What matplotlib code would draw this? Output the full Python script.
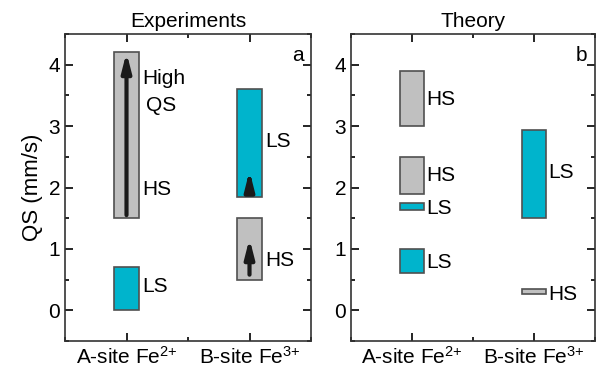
import matplotlib.pyplot as plt
from matplotlib.ticker import MultipleLocator

plt.rcParams['font.family'] = ['Liberation Sans', 'DejaVu Sans']
plt.rcParams['mathtext.fontset'] = 'custom'
plt.rcParams['mathtext.rm'] = 'Liberation Sans'
plt.rcParams['mathtext.it'] = 'Liberation Sans'

sites = ['A-site Fe$^{2{+}}$', 'B-site Fe$^{3{+}}$']
gray = '#c0c0c0'
cyan = '#00b4cc'

# (site position, low QS, high QS, colour, label, label y)
exp_bars = [
    (1, 1.5, 4.2, gray, 'HS', 1.96),
    (1, 0.0, 0.7, cyan, 'LS', 0.38),
    (2, 1.85, 3.6, cyan, 'LS', 2.75),
    (2, 0.5, 1.5, gray, 'HS', 0.81),
]
theo_bars = [
    (1, 3.0, 3.9, gray, 'HS', 3.44),
    (1, 1.9, 2.5, gray, 'HS', 2.20),
    (1, 1.63, 1.75, cyan, 'LS', 1.65),
    (1, 0.6, 1.0, cyan, 'LS', 0.78),
    (2, 1.5, 2.93, cyan, 'LS', 2.24),
    (2, 0.27, 0.35, gray, 'HS', 0.26),
]
# arrows (x, start, end)
exp_arrows = [(1, 1.55, 4.2), (2, 2.0, 2.27), (2, 0.58, 1.17)]

fig = plt.figure(figsize=(5.96, 3.73), dpi=100)
ax1 = fig.add_axes([65/596, 1-341/373, 246/596, 307/373])
ax2 = fig.add_axes([351/596, 1-341/373, 244/596, 307/373])


def draw(ax, bars, lab_dx):
    for x, lo, hi, c, lab, ly in bars:
        ax.bar(x, hi-lo, bottom=lo, width=0.2, color=c, edgecolor='#505050', linewidth=1.2, zorder=2)
        ax.text(x + lab_dx, ly, lab, fontsize=15, va='center', ha='left')
    ax.set_xlim(0.5, 2.5)
    ax.set_ylim(-0.5, 4.5)
    ax.set_xticks([1, 2])
    ax.set_xticklabels(sites, fontsize=15)
    ax.set_yticks([0, 1, 2, 3, 4])
    ax.yaxis.set_minor_locator(MultipleLocator(0.5))
    ax.xaxis.set_minor_locator(MultipleLocator(0.5))
    ax.tick_params(which='both', direction='in', top=True, right=True, labelsize=15, width=1.2)
    ax.tick_params(which='major', length=6)
    ax.tick_params(which='minor', length=3)
    for s in ax.spines.values():
        s.set_linewidth(1.2)
        s.set_color('#333333')


draw(ax1, exp_bars, 0.13)
draw(ax2, theo_bars, 0.12)

for x, y0, y1 in exp_arrows:
    ax1.annotate('', xy=(x, y1), xytext=(x, y0),
                 arrowprops=dict(arrowstyle='-|>,head_length=1.1,head_width=0.28', lw=3, color='#1a1a1a',
                                 shrinkA=0, shrinkB=0), zorder=3)

ax1.text(1.13, 3.78, 'High', fontsize=15, va='center', ha='left')
ax1.text(1.16, 3.34, 'QS', fontsize=15, va='center', ha='left')

ax1.text(0.97, 0.93, 'a', transform=ax1.transAxes, fontsize=15, ha='right', va='center')
ax2.text(0.97, 0.93, 'b', transform=ax2.transAxes, fontsize=15, ha='right', va='center')

ax1.set_ylabel('QS (mm/s)', fontsize=16, labelpad=4)
ax1.set_title('Experiments', fontsize=15, pad=5)
ax2.set_title('Theory', fontsize=15, pad=5)

fig.savefig('out.png', dpi=100)
